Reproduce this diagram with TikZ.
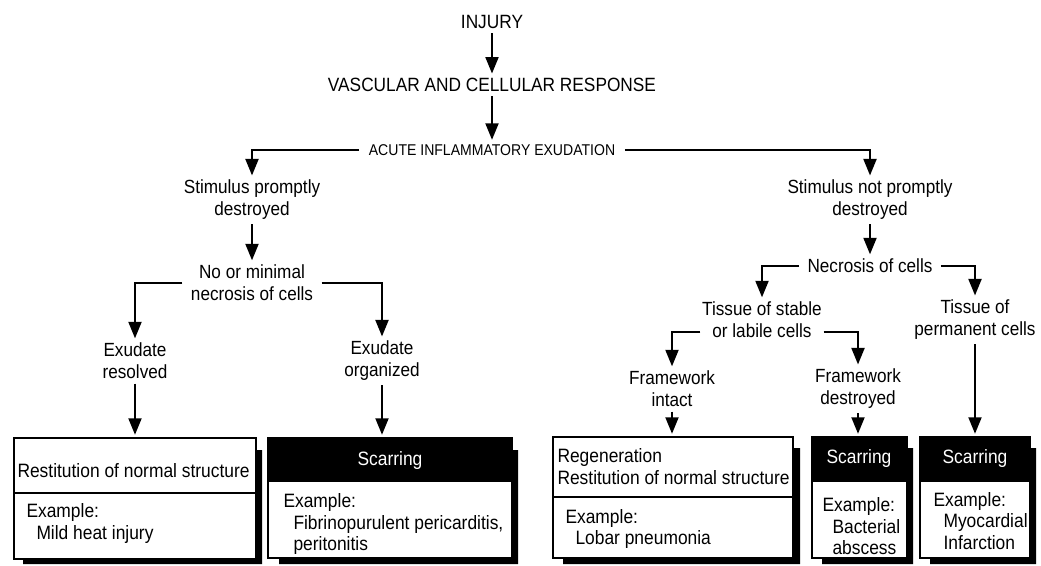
\documentclass[tikz,border=0pt]{standalone}
\usepackage{fontspec}
\setmainfont{Liberation Sans}[FakeStretch=0.9]
\usetikzlibrary{arrows.meta,fit}

\tikzset{every picture/.style={line width=0.75pt}}
\tikzset{
  lbl/.style={align=center, inner xsep=4pt, inner ysep=3pt, font=\fontsize{14.3}{16.5}\selectfont},
  caps/.style={lbl, font=\fontsize{14.4}{16}\selectfont},
  flow/.style={line width=2.2pt, -{Triangle[length=12.5pt,width=9.5pt]}},
  outcome/.style={draw, line width=1.6pt, inner sep=0pt, fill=white},
  boxtxt/.style={anchor=west, inner sep=0pt, font=\fontsize{14.5}{15}\selectfont},
  shade/.style={fill=black},
}

\begin{document}
\begin{tikzpicture}[x=0.75pt,y=0.75pt,yscale=-1,xscale=1]
\useasboundingbox (0,0) rectangle (1041,565);

% Text Node
\draw (492,22) node [caps] (injury) {INJURY};
% Text Node
\draw (492,85) node [caps] (vasc) {VASCULAR AND CELLULAR RESPONSE};
% Text Node
\draw (492,150) node [lbl, inner xsep=7pt, font=\fontsize{11.7}{13}\selectfont] (acute) {ACUTE INFLAMMATORY EXUDATION};

% Text Node
\draw (252,200) node [lbl] (stimA) {Stimulus promptly\\destroyed};
% Text Node
\draw (252,283) node [lbl, inner xsep=6pt] (minimal) {No or minimal\\necrosis of cells};
% Text Node
\draw (135,361) node [lbl] (exres) {Exudate\\resolved};
% Text Node
\draw (382,361) node [lbl] (exorg) {Exudate\\organized};

% Text Node
\draw (870,200) node [lbl] (stimB) {Stimulus not promptly\\destroyed};
% Text Node
\draw (870,266) node [lbl, inner xsep=6pt] (necro) {Necrosis of cells};
% Text Node
\draw (762,320) node [lbl, inner xsep=1pt] (tissA) {Tissue of stable\\or labile cells};
% Text Node
\draw (975,320) node [lbl] (tissB) {Tissue of\\permanent cells};
% Text Node
\draw (672,389) node [lbl] (fwA) {Framework\\intact};
% Text Node
\draw (858,389) node [lbl] (fwB) {Framework\\destroyed};

%Shape: Shadows
\fill [shade] (256,450) -- (262,450) -- (262,564) -- (23,564) -- (23,559) -- (256,559) -- cycle;
\fill [shade] (512,450) -- (518,450) -- (518,564) -- (279,564) -- (279,558) -- (512,558) -- cycle;
\fill [shade] (793,448) -- (800,448) -- (800,564) -- (563,564) -- (563,558) -- (793,558) -- cycle;
\fill [shade] (907,448) -- (913,448) -- (913,564) -- (822,564) -- (822,558) -- (907,558) -- cycle;
\fill [shade] (1030,448) -- (1036,448) -- (1036,564) -- (930,564) -- (930,558) -- (1030,558) -- cycle;

%Shape: Rectangle
\node [outcome, fit={(14,438) (256,559)}] (box1) {};
\draw [line width=1.6pt] (14,493) -- (256,493);
%Shape: Rectangle
\node [outcome, fit={(268,438) (512,558)}] (box2) {};
\fill (268,438) rectangle (512,482);
%Shape: Rectangle
\node [outcome, fit={(553,437) (793,558)}] (box3) {};
\draw [line width=1.6pt] (553,497) -- (793,497);
%Shape: Rectangle
\node [outcome, fit={(812,437) (907,558)}] (box4) {};
\fill (812,437) rectangle (907,482);
%Shape: Rectangle
\node [outcome, fit={(920,437) (1030,558)}] (box5) {};
\fill (920,437) rectangle (1030,482);

% Text Node
\draw (17,471) node [boxtxt] (restA) {Restitution of normal structure};
\draw (26,512) node [boxtxt] (exmA) {Example:};
\draw (36,534) node [boxtxt] (mild) {Mild heat injury};
% Text Node
\draw (390,460) node [boxtxt, anchor=center, text=white] (scarA) {Scarring};
\draw (283,502) node [boxtxt] (exmB) {Example:};
\draw (293,524) node [boxtxt] (fibrin) {Fibrinopurulent pericarditis,};
\draw (293,545) node [boxtxt] (perit) {peritonitis};
% Text Node
\draw (557,457) node [boxtxt] (regen) {Regeneration};
\draw (557,478) node [boxtxt] (restB) {Restitution of normal structure};
\draw (565,518) node [boxtxt] (exmC) {Example:};
\draw (575,539) node [boxtxt] (lobar) {Lobar pneumonia};
% Text Node
\draw (859,458) node [boxtxt, anchor=center, text=white] (scarB) {Scarring};
\draw (822,506) node [boxtxt] (exmD) {Example:};
\draw (832,527) node [boxtxt] (bact) {Bacterial};
\draw (832,548) node [boxtxt] (absc) {abscess};
% Text Node
\draw (975,458) node [boxtxt, anchor=center, text=white] (scarC) {Scarring};
\draw (933,501) node [boxtxt] (exmE) {Example:};
\draw (943,522) node [boxtxt] (myo) {Myocardial};
\draw (943,543) node [boxtxt] (infarct) {Infarction};

%Straight Lines
\draw [flow] (injury) -- (vasc);
\draw [flow] (vasc) -- (acute);
\draw [flow] (acute.west) -| (stimA.north);
\draw [flow] (acute.east) -| (stimB.north);
\draw [flow] (stimA) -- (minimal);
\draw [flow] (minimal.west) -| (exres.north);
\draw [flow] (minimal.east) -| (exorg.north);
\draw [flow, shorten >=1.5pt] (exres.south) -- (exres.south |- box1.north);
\draw [flow, shorten >=1.5pt] (exorg.south) -- (exorg.south |- box2.north);
\draw [flow] (stimB) -- (necro);
\draw [flow] (necro.west) -| (tissA.north);
\draw [flow] (necro.east) -| (tissB.north);
\draw [flow] ([yshift=9pt]tissA.west) -| (fwA.north);
\draw [flow] ([yshift=9pt]tissA.east) -| (fwB.north);
\draw [flow, shorten >=1.5pt] (fwA.south) -- (fwA.south |- box3.north);
\draw [flow, shorten >=1.5pt] (fwB.south) -- (fwB.south |- box4.north);
\draw [flow, shorten >=1.5pt] (tissB.south) -- (tissB.south |- box5.north);

\end{tikzpicture}
\end{document}
